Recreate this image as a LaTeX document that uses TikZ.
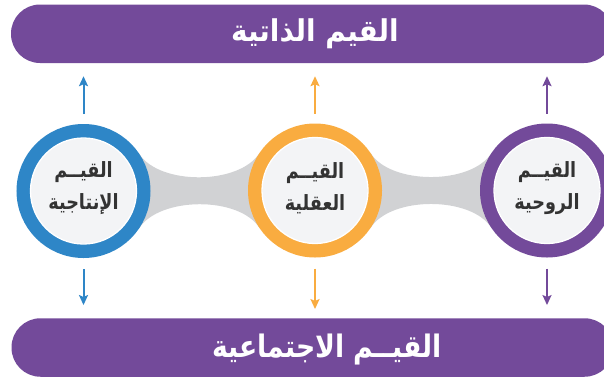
\documentclass[tikz,border=0pt]{standalone}
\usepackage{fontspec}
\usetikzlibrary{arrows.meta}
\TeXXeTstate=1
\newfontfamily\arabicfont[Script=Arabic]{DejaVu Sans}
\newfontfamily\arabictop[Script=Arabic,FakeStretch=0.93]{DejaVu Sans}
\newfontfamily\arabicbot[Script=Arabic,FakeStretch=0.86]{DejaVu Sans}
\newfontfamily\arabicring[Script=Arabic,FakeStretch=0.84]{DejaVu Sans}
\definecolor{barpurple}{RGB}{115,74,154}
\definecolor{cblue}{RGB}{46,134,199}
\definecolor{corange}{RGB}{249,172,64}
\definecolor{cpurple}{RGB}{115,74,154}
\definecolor{innerfill}{RGB}{243,244,246}
\definecolor{bridgegray}{RGB}{209,210,212}
\definecolor{textdark}{RGB}{51,51,51}
\pgfdeclarelayer{background}
\pgfsetlayers{background,main}
\begin{document}
\begin{tikzpicture}[x=1pt,y=-1pt,
  bar/.style={rectangle, rounded corners=29pt, fill=barpurple, minimum width=602pt, minimum height=58.5pt, inner sep=0pt},
  bartext/.style={text=white, anchor=base, inner sep=0pt},
  ring/.style={circle, draw=#1, line width=14pt, fill=innerfill, minimum size=120pt, inner sep=0pt},
  innerline/.style={draw=white, line width=1.3pt},
  ringtext/.style={text=textdark, align=center, font=\arabicring\bfseries\fontsize{21}{32}\selectfont, inner sep=0pt},
  bridge/.style={fill=bridgegray},
  arrow/.style={draw=#1, line width=2pt, -{Stealth[length=10pt,width=9pt,inset=2pt]}},
]
\useasboundingbox (0,0) rectangle (604,378);
\clip (0,0) rectangle (604,378);
% bars
\node[bar] (top) at (312,33.75) {};
\node[bar] (bot) at (312.5,347.5) {};
\node[bartext, font=\arabictop\bfseries\fontsize{30}{32}\selectfont] (toptext) at (315,41) {\beginR القيم الذاتية\endR};
\node[bartext, font=\arabicbot\bfseries\fontsize{31}{33}\selectfont] (bottext) at (327,357) {\beginR القيــم الاجتماعية\endR};
% circles
\node[ring=cblue] (c1) at (83.5,191) {};
\node[ring=corange] (c2) at (315,190.5) {};
\node[ring=cpurple] (c3) at (547,190.5) {};
\draw[innerline] (c1.center) circle[radius=53pt];
\draw[innerline] (c2.center) circle[radius=53pt];
\draw[innerline] (c3.center) circle[radius=53pt];
\node[ringtext] (t1) at (83.5,188) {\beginR القيــم\endR\\\beginR الإنتاجية\endR};
\node[ringtext] (t2) at (315,188) {\beginR القيــم\endR\\\beginR العقلية\endR};
\node[ringtext] (t3) at (547,188) {\beginR القيــم\endR\\\beginR الروحية\endR};
% bridges
\begin{pgfonlayer}{background}
\path[bridge] (c1.34) .. controls +(20,32) and +(-20,32) .. (c2.146) -- (c2.214)
  .. controls +(-20,-32) and +(20,-32) .. (c1.326) -- cycle;
\path[bridge] (c2.34) .. controls +(20,32) and +(-20,32) .. (c3.146) -- (c3.214)
  .. controls +(-20,-32) and +(20,-32) .. (c2.326) -- cycle;
\end{pgfonlayer}
% arrows
\draw[arrow=cblue] ([yshift=10pt]c1.north) -- ([yshift=-13pt]c1.north |- top.south);
\draw[arrow=corange] ([yshift=10pt]c2.north) -- ([yshift=-13pt]c2.north |- top.south);
\draw[arrow=cpurple] ([yshift=10pt]c3.north) -- ([yshift=-13pt]c3.north |- top.south);
\draw[arrow=cblue] ([yshift=-11pt]c1.south) -- ([yshift=13pt]c1.south |- bot.north);
\draw[arrow=corange] ([yshift=-11pt]c2.south) -- ([yshift=9pt]c2.south |- bot.north);
\draw[arrow=cpurple] ([yshift=-11pt]c3.south) -- ([yshift=13pt]c3.south |- bot.north);
\end{tikzpicture}
\end{document}
